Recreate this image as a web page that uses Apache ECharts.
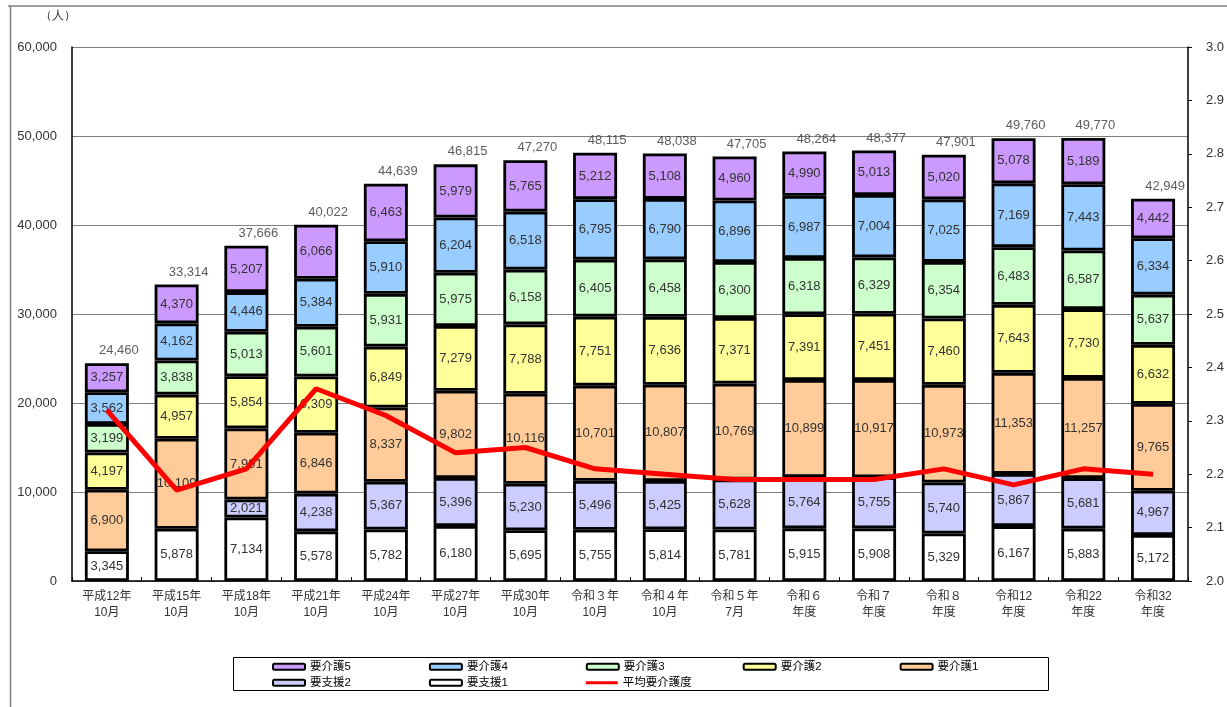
<!DOCTYPE html>
<html>
<head>
<meta charset="utf-8">
<script src="https://cdn.jsdelivr.net/npm/echarts@6/dist/echarts.min.js"></script>
<style>
html,body{margin:0;padding:0;background:#fff;}
#chart{width:1227px;height:707px;}
</style>
</head>
<body>
<div id="chart"></div>
<script>
var categories = ['平成12年\n10月','平成15年\n10月','平成18年\n10月','平成21年\n10月','平成24年\n10月','平成27年\n10月','平成30年\n10月','令和３年\n10月','令和４年\n10月','令和５年\n7月','令和６\n年度','令和７\n年度','令和８\n年度','令和12\n年度','令和22\n年度','令和32\n年度'];
var youShien1 = [3345,5878,7134,5578,5782,6180,5695,5755,5814,5781,5915,5908,5329,6167,5883,5172];
var youShien2 = [null,null,2021,4238,5367,5396,5230,5496,5425,5628,5764,5755,5740,5867,5681,4967];
var youKaigo1 = [6900,10109,7991,6846,8337,9802,10116,10701,10807,10769,10899,10917,10973,11353,11257,9765];
var youKaigo2 = [4197,4957,5854,6309,6849,7279,7788,7751,7636,7371,7391,7451,7460,7643,7730,6632];
var youKaigo3 = [3199,3838,5013,5601,5931,5975,6158,6405,6458,6300,6318,6329,6354,6483,6587,5637];
var youKaigo4 = [3562,4162,4446,5384,5910,6204,6518,6795,6790,6896,6987,7004,7025,7169,7443,6334];
var youKaigo5 = [3257,4370,5207,6066,6463,5979,5765,5212,5108,4960,4990,5013,5020,5078,5189,4442];
var heikin = [2.32,2.17,2.21,2.36,2.31,2.24,2.25,2.21,2.20,2.19,2.19,2.19,2.21,2.18,2.21,2.20];
var totals = [24460,33314,37666,40022,44639,46815,47270,48115,48038,47705,48264,48377,47901,49760,49770,42949];
var leftTicks = {min:0, max:60000, interval:10000};
var rightTicks = {min:2.0, max:3.0, interval:0.1};

var FONT = 'Liberation Sans, Noto Sans CJK JP, sans-serif';
function fmt(v){ return Number(v).toLocaleString('en-US'); }

function barSeries(name, data, color){
  return {
    name: name, type: 'bar', stack: 'total', data: data, barWidth: 44,
    itemStyle: {color: color, borderColor: '#000', borderWidth: 2.8},
    label: {show: true, position: 'inside', color: '#333', fontSize: 13, fontFamily: FONT,
      formatter: function(p){ return (p.value==null)?'':fmt(p.value); }},
    emphasis: {disabled: true}, z: 2
  };
}

var chart = echarts.init(document.getElementById('chart'), null, {renderer:'canvas'});
var option = {
  backgroundColor: '#fff',
  animation: false,
  grid: {left: 72, right: 34, top: 47, bottom: 126, containLabel: false},
  legend: [
    {left: 272, top: 661, padding: 0, itemWidth: 32, itemHeight: 6, itemGap: 78,
     data: ['要介護5','要介護4','要介護3','要介護2','要介護1'],
     textStyle: {fontSize: 11.5, color: '#000', fontFamily: FONT},
     itemStyle: {borderWidth: 2}},
    {left: 272, top: 677, padding: 0, itemWidth: 32, itemHeight: 6, itemGap: 78,
     symbolKeepAspect: true,
     data: ['要支援2','要支援1',{name:'平均要介護度', icon: 'path://M0,0 L32,0 L32,3 L0,3 Z', itemStyle: {color: '#FF0000', borderWidth: 0}}],
     textStyle: {fontSize: 11.5, color: '#000', fontFamily: FONT},
     itemStyle: {borderWidth: 2}}
  ],
  xAxis: {
    type: 'category', data: categories,
    axisLine: {lineStyle: {color: '#000', width: 1.5}},
    axisTick: {show: true, inside: true, length: 4, lineStyle: {color: '#000'}},
    axisLabel: {color: '#333', fontSize: 12, lineHeight: 16, margin: 8, fontFamily: FONT, interval: 0}
  },
  yAxis: [
    {type: 'value', min: leftTicks.min, max: leftTicks.max, interval: leftTicks.interval,
     axisLine: {show: true, lineStyle: {color: '#000', width: 1.5}},
     axisTick: {show: false},
     splitLine: {show: true, lineStyle: {color: '#808080', width: 1}},
     axisLabel: {color: '#333', fontSize: 13, margin: 15, fontFamily: FONT, formatter: function(v){return fmt(v);}}},
    {type: 'value', min: rightTicks.min, max: rightTicks.max, interval: rightTicks.interval,
     position: 'right',
     axisLine: {show: true, lineStyle: {color: '#000', width: 1.5}},
     axisTick: {show: true, inside: false, length: 4, lineStyle: {color: '#000'}},
     splitLine: {show: false},
     axisLabel: {color: '#333', fontSize: 13, margin: 18, fontFamily: FONT, formatter: function(v){return v.toFixed(1);}}}
  ],
  series: [
    barSeries('要支援1', youShien1, '#FFFFFF'),
    barSeries('要支援2', youShien2, '#CCCCFF'),
    barSeries('要介護1', youKaigo1, '#FFCC99'),
    barSeries('要介護2', youKaigo2, '#FFFF99'),
    barSeries('要介護3', youKaigo3, '#CCFFCC'),
    barSeries('要介護4', youKaigo4, '#99CCFF'),
    barSeries('要介護5', youKaigo5, '#CC99FF'),
    {name: '合計', type: 'scatter', data: totals, symbolSize: 0, yAxisIndex: 0,
     label: {show: true, position: 'top', distance: 6, offset: [12, 0], color: '#333', fontSize: 13, fontFamily: FONT,
       formatter: function(p){ return fmt(p.value); }},
     emphasis: {disabled: true}, z: 2},
    {name: '平均要介護度', type: 'line', yAxisIndex: 1, data: heikin, symbol: 'none',
     lineStyle: {color: '#FF0000', width: 5}, itemStyle: {color: '#FF0000'}, z: 5,
     emphasis: {disabled: true}}
  ],
  graphic: [
    {type: 'line', shape: {x1: 8, y1: 6, x2: 1227, y2: 6}, style: {stroke: '#808080', lineWidth: 1.5}},
    {type: 'line', shape: {x1: 10.5, y1: 6, x2: 10.5, y2: 707}, style: {stroke: '#808080', lineWidth: 1.5}},
    {type: 'rect', shape: {x: 233.5, y: 657.5, width: 815, height: 33}, style: {fill: 'none', stroke: '#000', lineWidth: 1}},
    {type: 'text', left: 40, top: 10, style: {text: '（人）', fontSize: 12, fill: '#333', font: '12px Noto Sans CJK JP'}}
  ]
};
chart.setOption(option);
</script>
</body>
</html>
